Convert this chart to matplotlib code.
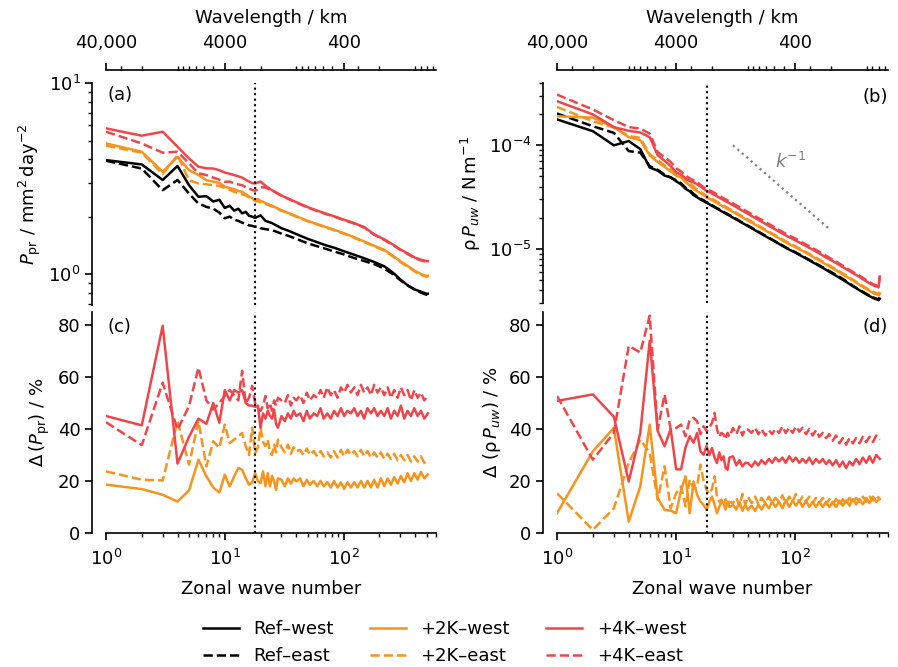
import numpy as np
import matplotlib.pyplot as plt
from matplotlib.ticker import LogLocator, NullFormatter

plt.rcParams['font.family'] = 'DejaVu Sans'
plt.rcParams['font.size'] = 13
plt.rcParams['axes.linewidth'] = 1.2
plt.rcParams['xtick.major.size'] = 4.8
plt.rcParams['ytick.major.size'] = 4.8
plt.rcParams['xtick.minor.size'] = 2.8
plt.rcParams['ytick.minor.size'] = 2.8
plt.rcParams['xtick.major.width'] = 1.2
plt.rcParams['ytick.major.width'] = 1.2
plt.rcParams['xtick.minor.width'] = 1.0
plt.rcParams['ytick.minor.width'] = 1.0

# zonal wave numbers sampled for the spectra (top) and the relative changes (bottom)
k_top = [1, 2, 3, 4, 5, 6, 7, 8, 9, 10, 11, 12, 13, 14, 15, 16, 17, 18, 19, 20,
         22, 25, 30, 35, 40, 50, 60, 70, 85, 100, 120, 150, 180, 220, 260, 300,
         350, 400, 450, 500, 512]
k_bot = [1, 2, 3, 4, 5, 6, 7, 8, 9, 10, 11, 12, 13, 14, 15, 16, 17, 18, 19, 20,
         21, 22, 23, 24, 25, 26, 27, 28, 30, 32, 34, 36, 38, 40,
         43, 46, 49, 52, 56, 60, 64, 68, 73, 78, 83, 89, 95, 101, 108, 115,
         123, 131, 140, 149, 159, 170, 181, 193, 206, 220, 235, 250, 267, 285, 304, 324,
         346, 369, 394, 420, 448, 478, 512]

# (a) precipitation power, mm2 day-2
pr_ref_west = [3.95, 3.75, 3.11, 3.68, 2.92, 2.54, 2.56, 2.40, 2.45, 2.22, 2.28, 2.15, 2.20, 2.08, 2.12, 2.02, 2.00, 1.97, 2.00, 2.03,
               1.90, 1.85, 1.74, 1.68, 1.62, 1.53, 1.47, 1.42, 1.37, 1.32, 1.27, 1.21, 1.16, 1.10, 1.02, 0.94, 0.87, 0.83, 0.81, 0.79, 0.79]
pr_ref_east = [3.92, 3.57, 2.75, 3.11, 2.64, 2.34, 2.25, 2.20, 2.10, 1.96, 2.00, 1.93, 1.90, 1.86, 1.84, 1.80, 1.79, 1.77, 1.78, 1.74,
               1.72, 1.70, 1.63, 1.58, 1.53, 1.45, 1.40, 1.36, 1.31, 1.27, 1.22, 1.17, 1.13, 1.07, 1.00, 0.93, 0.87, 0.83, 0.80, 0.78, 0.78]
pr_2k_west = [4.83, 4.37, 3.43, 4.11, 3.50, 3.30, 3.10, 3.05, 3.00, 2.87, 2.82, 2.78, 2.72, 2.70, 2.62, 2.55, 2.50, 2.44, 2.47, 2.42,
              2.36, 2.28, 2.16, 2.08, 2.01, 1.90, 1.83, 1.77, 1.70, 1.64, 1.57, 1.48, 1.41, 1.34, 1.25, 1.17, 1.10, 1.04, 1.00, 0.98, 0.98]
pr_2k_east = [4.70, 4.32, 3.34, 4.20, 3.10, 2.98, 2.95, 2.92, 2.90, 2.82, 2.76, 2.70, 2.65, 2.62, 2.58, 2.52, 2.48, 2.42, 2.40, 2.38,
              2.33, 2.26, 2.15, 2.07, 2.00, 1.89, 1.82, 1.76, 1.69, 1.63, 1.56, 1.47, 1.40, 1.33, 1.24, 1.16, 1.09, 1.03, 0.99, 0.97, 0.97]
pr_4k_west = [5.79, 5.30, 5.56, 4.64, 4.03, 3.65, 3.58, 3.57, 3.50, 3.40, 3.35, 3.30, 3.25, 3.20, 3.12, 3.05, 3.00, 2.98, 3.02, 3.05,
              2.90, 2.75, 2.58, 2.47, 2.38, 2.24, 2.15, 2.08, 2.00, 1.93, 1.86, 1.76, 1.62, 1.52, 1.43, 1.35, 1.28, 1.22, 1.19, 1.17, 1.17]
pr_4k_east = [5.56, 4.83, 4.32, 4.37, 3.80, 3.37, 3.30, 3.20, 3.12, 3.04, 3.05, 2.98, 2.95, 2.92, 2.85, 2.80, 2.76, 2.73, 2.78, 2.85,
              2.84, 2.74, 2.57, 2.46, 2.37, 2.23, 2.14, 2.07, 1.99, 1.92, 1.85, 1.75, 1.61, 1.51, 1.42, 1.34, 1.27, 1.21, 1.18, 1.16, 1.16]

# (b) momentum flux power, in units of 1e-5 N m-1
uw_ref_west = [17.8, 13.7, 10.0, 11.0, 9.2, 6.1, 5.7, 5.1, 4.9, 4.5, 4.2, 3.8, 3.6, 3.3, 3.15, 3.0, 2.9, 2.78, 2.7, 2.6,
               2.45, 2.25, 2.00, 1.81, 1.66, 1.43, 1.27, 1.15, 1.01, 0.92, 0.82, 0.71, 0.63, 0.55, 0.49, 0.44, 0.395, 0.36, 0.335, 0.32, 0.33]
uw_ref_east = [20.3, 15.3, 13.2, 8.8, 8.5, 6.3, 5.8, 5.2, 4.9, 4.6, 4.3, 3.9, 3.7, 3.4, 3.2, 3.05, 2.95, 2.82, 2.74, 2.64,
               2.48, 2.28, 2.03, 1.83, 1.68, 1.45, 1.28, 1.16, 1.02, 0.93, 0.83, 0.72, 0.64, 0.56, 0.50, 0.445, 0.40, 0.365, 0.34, 0.325, 0.34]
uw_2k_west = [19.1, 18.5, 15.0, 12.0, 11.2, 8.0, 6.9, 6.2, 5.6, 5.1, 4.9, 4.4, 4.1, 3.8, 3.6, 3.45, 3.3, 3.14, 3.05, 2.95,
              2.78, 2.55, 2.27, 2.05, 1.88, 1.62, 1.44, 1.30, 1.14, 1.04, 0.93, 0.80, 0.71, 0.62, 0.55, 0.50, 0.445, 0.405, 0.375, 0.355, 0.37]
uw_2k_east = [23.5, 17.1, 14.8, 12.3, 11.8, 8.2, 7.2, 6.4, 5.8, 5.3, 5.2, 4.6, 4.3, 4.0, 3.75, 3.55, 3.4, 3.25, 3.15, 3.05,
              2.86, 2.62, 2.33, 2.10, 1.93, 1.66, 1.47, 1.33, 1.17, 1.06, 0.95, 0.82, 0.725, 0.635, 0.565, 0.51, 0.455, 0.415, 0.385, 0.365, 0.39]
uw_4k_west = [26.7, 19.9, 15.0, 13.8, 13.3, 12.0, 8.0, 7.1, 6.3, 5.5, 5.2, 4.8, 4.5, 4.4, 4.2, 4.0, 3.8, 3.64, 3.52, 3.42,
              3.22, 2.96, 2.64, 2.38, 2.18, 1.88, 1.67, 1.51, 1.33, 1.21, 1.08, 0.94, 0.83, 0.73, 0.65, 0.59, 0.53, 0.48, 0.445, 0.425, 0.54]
uw_4k_east = [30.9, 22.2, 17.5, 15.0, 14.5, 13.0, 8.6, 7.7, 6.9, 6.0, 5.6, 5.1, 4.8, 4.6, 4.4, 4.15, 3.95, 3.78, 3.68, 3.58,
              3.36, 3.08, 2.75, 2.48, 2.27, 1.96, 1.74, 1.57, 1.38, 1.26, 1.12, 0.975, 0.86, 0.755, 0.67, 0.605, 0.545, 0.495, 0.455, 0.435, 0.55]

# (c) change of precipitation power, %
dpr_2k_west = [18.6, 16.9, 14.7, 12.1, 16.4, 28.2, 21.8, 17.5, 15.6, 22.4, 17.9, 21.8, 25.0, 24.3, 21.1, 18.6, 19.5, 23.0, 20.0, 19.2,
               23.7, 18.0, 23.0, 17.9, 22.0, 20.0, 16.6, 21.0, 20.5, 18.0, 21.0, 19.0, 21.0, 19.8,
               21.0, 18.0, 20.5, 18.5, 20.0, 18.0, 20.0, 18.0, 19.5, 17.5, 20.0, 17.5, 19.5, 17.0, 19.5, 17.5,
               19.5, 17.5, 20.0, 17.5, 20.0, 17.5, 20.5, 17.5, 21.0, 18.0, 21.0, 18.5, 21.5, 19.0, 22.0, 19.5,
               23.0, 20.0, 23.0, 20.5, 23.5, 21.0, 22.5]
dpr_2k_east = [23.7, 20.5, 20.2, 43.0, 26.3, 43.0, 25.6, 35.3, 32.7, 41.7, 34.6, 35.9, 37.2, 38.5, 33.4, 30.0, 40.5, 30.8, 33.0, 40.4,
               35.0, 33.4, 36.0, 31.0, 30.0, 34.0, 31.0, 35.9, 33.0, 31.0, 34.0, 30.5, 33.0, 31.4,
               32.0, 30.0, 32.5, 30.0, 31.5, 29.5, 31.5, 29.5, 31.0, 29.0, 31.5, 29.0, 32.0, 29.5, 32.0, 30.0,
               31.5, 29.5, 32.0, 29.5, 31.5, 29.0, 31.0, 29.0, 31.0, 28.5, 30.5, 28.5, 30.5, 28.0, 30.0, 28.0,
               30.0, 27.5, 29.5, 27.5, 29.5, 27.0, 28.5]
dpr_4k_west = [45.0, 41.4, 79.7, 26.7, 37.0, 44.0, 42.0, 50.0, 42.4, 55.0, 51.0, 55.0, 54.0, 55.0, 50.0, 49.0, 49.0, 48.5, 49.0, 40.5,
               46.0, 44.0, 47.0, 45.0, 44.0, 47.5, 42.0, 40.5, 45.0, 43.0, 46.0, 44.0, 47.0, 45.0,
               46.0, 43.0, 47.0, 44.0, 46.0, 45.0, 48.0, 44.0, 46.0, 44.0, 47.0, 45.0, 48.0, 45.0, 47.0, 46.0,
               48.0, 45.0, 47.0, 44.0, 48.0, 46.0, 48.0, 45.0, 47.0, 45.0, 48.0, 44.0, 47.0, 45.0, 49.0, 44.0,
               47.0, 45.0, 48.0, 45.0, 47.0, 44.0, 46.0]
dpr_4k_east = [42.6, 33.8, 57.8, 39.8, 48.8, 63.6, 51.0, 47.5, 50.0, 52.7, 55.0, 53.0, 51.0, 62.4, 50.0, 52.0, 56.6, 50.0, 48.0, 47.0,
               49.0, 52.7, 48.0, 50.0, 47.0, 51.0, 49.0, 52.0, 51.0, 50.0, 53.0, 49.0, 52.0, 51.0,
               53.0, 50.0, 54.0, 51.0, 53.0, 52.0, 55.0, 52.0, 56.0, 53.0, 55.0, 52.0, 56.0, 54.0, 57.0, 54.0,
               56.0, 53.0, 57.0, 54.0, 56.0, 53.0, 57.0, 54.0, 56.0, 53.0, 56.0, 52.0, 55.0, 52.0, 56.0, 53.0,
               55.0, 51.0, 55.0, 52.0, 54.0, 51.0, 53.0]

# (d) change of momentum flux power, %
duw_2k_west = [7.6, 31.4, 40.4, 4.4, 17.9, 41.7, 13.4, 8.9, 8.6, 7.6, 16.6, 21.8, 7.6, 19.8, 14.7, 12.1, 10.8, 8.9, 12.0, 14.0,
               11.0, 7.6, 10.0, 12.0, 11.5, 9.0, 12.0, 10.0, 10.8, 9.0, 12.0, 8.5, 11.0, 8.9,
               10.5, 8.5, 11.0, 9.0, 11.5, 9.5, 12.0, 10.0, 12.0, 9.5, 12.5, 10.0, 12.5, 10.5, 12.5, 10.0,
               12.5, 10.0, 12.0, 10.0, 12.0, 10.0, 12.0, 10.0, 12.0, 10.0, 12.5, 10.5, 12.5, 10.5, 13.0, 11.0,
               13.0, 11.0, 13.5, 11.5, 14.0, 12.0, 13.0]
duw_2k_east = [15.3, 1.2, 9.5, 26.9, 35.9, 30.8, 12.8, 25.6, 9.5, 15.3, 17.9, 10.2, 20.5, 17.0, 18.0, 26.3, 20.0, 16.6, 15.0, 17.0,
               21.8, 14.0, 12.0, 12.8, 10.0, 13.0, 11.0, 12.0, 11.5, 13.5, 10.5, 15.0, 11.0, 14.0,
               11.5, 14.0, 11.0, 13.5, 11.5, 14.0, 11.5, 13.5, 12.0, 14.5, 11.5, 14.0, 12.0, 15.0, 12.0, 14.0,
               12.0, 14.0, 11.5, 13.5, 11.5, 13.5, 11.0, 13.0, 11.0, 13.0, 11.0, 13.0, 11.5, 13.5, 11.5, 13.5,
               12.0, 14.0, 12.0, 14.0, 12.5, 14.5, 13.0]
duw_4k_west = [50.8, 53.3, 44.7, 19.8, 38.5, 73.9, 39.2, 33.4, 40.0, 24.5, 24.5, 33.0, 37.2, 34.7, 38.5, 31.4, 30.1, 33.4, 30.0, 32.7,
               29.0, 26.9, 31.0, 28.0, 29.5, 25.0, 24.3, 29.0, 29.5, 26.0, 28.0, 25.6, 27.0, 26.9,
               25.5, 27.5, 26.0, 28.0, 26.5, 28.5, 27.0, 29.0, 27.5, 29.0, 27.0, 29.5, 27.5, 29.0, 27.0, 28.5,
               27.0, 29.0, 26.5, 28.5, 27.0, 28.5, 26.5, 28.0, 26.0, 28.0, 25.5, 27.5, 25.0, 27.5, 26.0, 28.5,
               26.5, 29.0, 27.0, 29.5, 27.0, 30.0, 28.5]
duw_4k_east = [52.7, 28.2, 38.5, 72.0, 69.4, 83.6, 39.8, 53.3, 39.8, 40.4, 41.7, 37.2, 43.7, 44.3, 43.0, 38.0, 41.1, 39.2, 40.5, 42.4,
               46.2, 40.0, 37.0, 38.5, 37.9, 36.0, 38.5, 37.0, 40.4, 38.0, 41.0, 37.5, 40.0, 39.8,
               38.5, 40.5, 38.0, 40.0, 37.5, 39.5, 38.0, 40.0, 38.5, 41.0, 38.5, 40.5, 38.5, 41.0, 39.0, 40.5,
               38.0, 40.0, 37.5, 39.5, 37.0, 38.5, 36.5, 38.0, 35.5, 37.5, 34.5, 36.5, 34.0, 36.5, 34.5, 36.5,
               34.5, 37.0, 35.0, 37.0, 35.0, 37.5, 35.9]

# k^-1 guide line in (b)
k_guide = [30, 190]
uw_guide = [1.0e-4, 1.58e-5]

k_cut = 18
labels = ['Ref\u2013west', 'Ref\u2013east', '+2K\u2013west', '+2K\u2013east', '+4K\u2013west', '+4K\u2013east']
black = 'k'
orange = '#f7941d'
red = '#f0464b'
lw = 1.8

fig = plt.figure(figsize=(8.98, 6.67), dpi=100)
W, H = 898., 667.
ax_a = fig.add_axes([106/W, 1-305/H, 330/W, 222/H])
ax_b = fig.add_axes([557/W, 1-303/H, 331/W, 220/H])
ax_c = fig.add_axes([106/W, 1-533/H, 330/W, 221/H])
ax_d = fig.add_axes([557/W, 1-533/H, 331/W, 221/H])

# top row
uw_scale = 1e-5
top_series = [
    (pr_ref_west, uw_ref_west, black, '-'),
    (pr_ref_east, uw_ref_east, black, '--'),
    (pr_2k_west, uw_2k_west, orange, '-'),
    (pr_2k_east, uw_2k_east, orange, '--'),
    (pr_4k_west, uw_4k_west, red, '-'),
    (pr_4k_east, uw_4k_east, red, '--'),
]
handles = []
for (pr, uw, c, ls), lab in zip(top_series, labels):
    h, = ax_a.plot(k_top, pr, color=c, ls=ls, lw=lw, label=lab)
    ax_b.plot(k_top, np.array(uw) * uw_scale, color=c, ls=ls, lw=lw)
    handles.append(h)

bot_series = [
    (dpr_2k_west, duw_2k_west, orange, '-'),
    (dpr_2k_east, duw_2k_east, orange, '--'),
    (dpr_4k_west, duw_4k_west, red, '-'),
    (dpr_4k_east, duw_4k_east, red, '--'),
]
for dpr, duw, c, ls in bot_series:
    ax_c.plot(k_bot, dpr, color=c, ls=ls, lw=lw)
    ax_d.plot(k_bot, duw, color=c, ls=ls, lw=lw)

ax_b.plot(k_guide, uw_guide, color='grey', ls=':', lw=1.6)
ax_b.text(92, 6.9e-5, '$k^{-1}$', color='grey', ha='center', va='center', fontsize=13)

for ax in [ax_a, ax_b, ax_c, ax_d]:
    ax.set_xscale('log')
    ax.set_xlim(1, 600)
    ax.axvline(k_cut, color='k', ls=':', lw=1.5)
    ax.spines['right'].set_visible(False)
    ax.spines['top'].set_visible(False)
    ax.spines['left'].set_position(('outward', 10))

for ax in [ax_a, ax_b]:
    ax.set_yscale('log')
    ax.spines['bottom'].set_visible(False)
    ax.tick_params(axis='x', which='both', bottom=False, labelbottom=False)
    ax.yaxis.set_minor_formatter(NullFormatter())
    sec = ax.secondary_xaxis(1.058, functions=(lambda k: 40000. / k, lambda l: 40000. / l))
    sec.set_xticks([40000, 4000, 400], labels=['40,000', '4000', '400'])
    sec.xaxis.set_minor_locator(LogLocator(base=10, subs=np.arange(1, 10), numticks=20))
    sec.xaxis.set_minor_formatter(NullFormatter())
    sec.tick_params(axis='x', which='major', pad=8.5)
    sec.set_xlabel('Wavelength / km', labelpad=7.5)

ax_a.set_ylim(0.69, 10)
ax_b.set_ylim(3.0e-6, 4.0e-4)
ax_a.set_ylabel('$P_\\mathrm{pr}$ / mm$^2\\,$day$^{-2}$')
ax_b.set_ylabel('\u03c1$\\,P_{uw}$ / N$\\,$m$^{-1}$')

for ax in [ax_c, ax_d]:
    ax.set_ylim(0, 85)
    ax.set_yticks([0, 20, 40, 60, 80])
    ax.tick_params(axis='x', which='major', pad=7)
    ax.set_xlabel('Zonal wave number', labelpad=7.5)
ax_c.set_ylabel('$\\Delta\\,(P_\\mathrm{pr})$ / %')
ax_d.set_ylabel('\u0394 (\u03c1$\\,P_{uw}$) / %')

ax_a.text(0.005, 0.945, '(a)', transform=ax_a.transAxes, ha='left', va='center')
ax_b.text(1.0, 0.936, '(b)', transform=ax_b.transAxes, ha='right', va='center')
ax_c.text(0.005, 0.93, '(c)', transform=ax_c.transAxes, ha='left', va='center')
ax_d.text(1.0, 0.93, '(d)', transform=ax_d.transAxes, ha='right', va='center')

fig.align_ylabels([ax_a, ax_c])
fig.align_ylabels([ax_b, ax_d])

fig.legend(handles, labels, ncol=3, loc='upper center', bbox_to_anchor=(0.495, 0.095),
           frameon=False, fontsize=13, columnspacing=2.0, handlelength=2.0)

fig.savefig('out.png', dpi=100)
